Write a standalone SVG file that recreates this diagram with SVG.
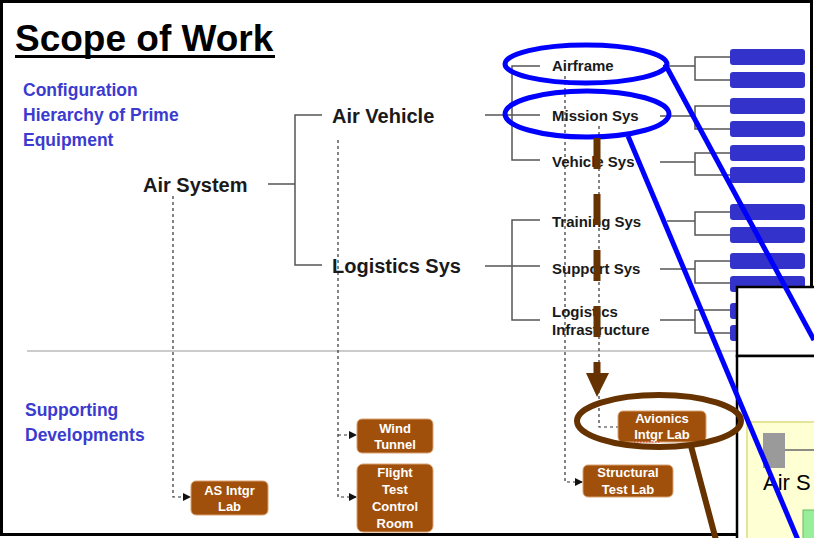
<svg xmlns="http://www.w3.org/2000/svg" width="814" height="538" viewBox="0 0 814 538">
<style>
.t{font-family:"Liberation Sans",Arial,sans-serif;font-weight:bold;fill:#1a1a1a}
.blue{font-family:"Liberation Sans",Arial,sans-serif;font-weight:bold;font-size:17.5px;fill:#3b3bcf}
.big{font-size:20px}
.sub{font-size:15px}
.tree{fill:none;stroke:#555;stroke-width:1.5}
.dot{fill:none;stroke:#333;stroke-width:1.2;stroke-dasharray:3 3}
.br rect{fill:#a0500a;stroke:#d9a070;stroke-width:1}
.bt{font-family:"Liberation Sans",Arial,sans-serif;font-weight:bold;font-size:13px;fill:#fff;text-anchor:middle}
.leaf{fill:#3333cc}
.bl{fill:none;stroke:#0000ff;stroke-width:5}
.bn{fill:none;stroke:#663300;stroke-width:6}
.sq{fill:none;stroke:#e03030;stroke-width:1;stroke-dasharray:1.5 1.5}
</style>
<defs>
<marker id="ah" viewBox="0 0 8 8" refX="7" refY="4" markerWidth="8" markerHeight="8" markerUnits="userSpaceOnUse" orient="auto">
<path d="M0,0 L8,4 L0,8 Z" fill="#111"/>
</marker>
</defs>
<rect x="0" y="0" width="814" height="538" fill="#fff"/>
<rect x="1.5" y="1.5" width="810" height="533" fill="none" stroke="#000" stroke-width="3"/>

<g id="title">
<text class="t" x="15" y="51" font-size="37" style="fill:#000">Scope of Work</text>
<rect x="15" y="55" width="260" height="3" fill="#000"/>
</g>
<g id="label-config">
<text class="blue" x="23" y="96">Configuration</text>
<text class="blue" x="23" y="121">Hierarchy of Prime</text>
<text class="blue" x="23" y="146">Equipment</text>
</g>
<g id="label-supporting">
<text class="blue" x="25" y="416">Supporting</text>
<text class="blue" x="25" y="441">Developments</text>
</g>
<path d="M27,351 H737" stroke="#cccccc" stroke-width="2"/>

<g id="connectors">
<path class="tree" d="M268,184 H295 M322,115 H295 V265 H322"/>
<path class="tree" d="M485,115 H540 M540,66 H512 V160 H540"/>
<path class="tree" d="M485,266 H540 M540,220 H512 V320 H540"/>
<path class="tree" d="M665,66 H695 M730,57 H695 V80 H730"/>
<path class="tree" d="M660,116 H695 M730,106 H695 V129 H730"/>
<path class="tree" d="M660,162 H695 M730,153 H695 V175 H730"/>
<path class="tree" d="M667,221 H695 M730,212 H695 V235 H730"/>
<path class="tree" d="M660,269 H695 M730,261 H695 V283 H730"/>
<path class="tree" d="M660,320 H695 M730,310 H695 V333 H730"/>
<path class="dot" d="M173,196 V497 H190" marker-end="url(#ah)"/>
<path class="dot" d="M338,140 V497 H356" marker-end="url(#ah)"/>
<path class="dot" d="M338,435 H356" marker-end="url(#ah)"/>
<path class="dot" d="M565,76 V482 H582" marker-end="url(#ah)"/>
<path class="dot" d="M599,126 V427 H618"/>
</g>

<g id="air-system"><text class="t big" x="143" y="192">Air System</text></g>
<g id="air-vehicle"><text class="t big" x="332" y="123">Air Vehicle</text></g>
<g id="logistics-sys"><text class="t big" x="332" y="273">Logistics Sys</text></g>
<g id="airframe"><text class="t sub" x="552" y="71">Airframe</text></g>
<g id="mission-sys"><text class="t sub" x="552" y="121">Mission Sys</text></g>
<g id="vehicle-sys"><text class="t sub" x="552" y="167">Vehicle Sys</text></g>
<g id="training-sys"><text class="t sub" x="552" y="227">Training Sys</text></g>
<g id="support-sys"><text class="t sub" x="552" y="274">Support Sys</text></g>
<g id="logistics-infra"><text class="t sub" x="552" y="317">Logistics</text><text class="t sub" x="552" y="335">Infrastructure</text></g>

<g id="leaves">
<rect class="leaf" x="730" y="49" width="75" height="16" rx="3"/>
<rect class="leaf" x="730" y="72" width="75" height="16" rx="3"/>
<rect class="leaf" x="730" y="98" width="75" height="16" rx="3"/>
<rect class="leaf" x="730" y="121" width="75" height="16" rx="3"/>
<rect class="leaf" x="730" y="145" width="75" height="16" rx="3"/>
<rect class="leaf" x="730" y="167" width="75" height="16" rx="3"/>
<rect class="leaf" x="730" y="204" width="75" height="16" rx="3"/>
<rect class="leaf" x="730" y="227" width="75" height="16" rx="3"/>
<rect class="leaf" x="730" y="253" width="75" height="16" rx="3"/>
<rect class="leaf" x="730" y="276" width="75" height="16" rx="3"/>
<rect class="leaf" x="730" y="303" width="75" height="16" rx="3"/>
<rect class="leaf" x="730" y="325" width="75" height="16" rx="3"/>
</g>

<g id="as-intgr-lab" class="br">
<rect x="191" y="481" width="77" height="34" rx="5"/>
<text class="bt" x="229.5" y="495">AS Intgr</text>
<text class="bt" x="229.5" y="511">Lab</text>
<path class="sq" d="M222,498 H251"/>
</g>
<g id="wind-tunnel" class="br">
<rect x="357" y="419" width="76" height="34" rx="5"/>
<text class="bt" x="395" y="433">Wind</text>
<text class="bt" x="395" y="449">Tunnel</text>
</g>
<g id="flight-test" class="br">
<rect x="357" y="464" width="76" height="68" rx="6"/>
<text class="bt" x="395" y="477">Flight</text>
<text class="bt" x="395" y="494">Test</text>
<text class="bt" x="395" y="511">Control</text>
<text class="bt" x="395" y="528">Room</text>
</g>
<g id="structural-test-lab" class="br">
<rect x="583" y="465" width="90" height="32" rx="5"/>
<text class="bt" x="628" y="477">Structural</text>
<text class="bt" x="628" y="494">Test Lab</text>
</g>
<g id="avionics-intgr-lab" class="br">
<rect x="618" y="411" width="88" height="31" rx="5"/>
<text class="bt" x="662" y="423">Avionics</text>
<text class="bt" x="662" y="439">Intgr Lab</text>
<path class="sq" d="M634,442 H660"/>
</g>

<g id="highlight-blue">
<ellipse class="bl" cx="586" cy="64" rx="81" ry="19"/>
<ellipse class="bl" cx="587" cy="114" rx="82" ry="23"/>
</g>
<g id="brown-arrow">
<path d="M597,138 V373" stroke="#663300" stroke-width="7" stroke-dasharray="31 25" fill="none"/>
<path d="M586,373 L609,373 L597,397 Z" fill="#663300"/>
</g>

<g id="window">
<rect x="737" y="287" width="90" height="69" fill="#fff" stroke="#000" stroke-width="2.5"/>
<rect x="737" y="356" width="90" height="200" fill="#fff" stroke="#000" stroke-width="2.5"/>
<rect x="747" y="422" width="90" height="130" fill="#ffffd4" stroke="#e5e59a" stroke-width="2"/>
<rect x="763" y="433" width="22" height="35" fill="#9a9a9a"/>
<path d="M785,450 H814" stroke="#666" stroke-width="1.5"/>
<text x="763" y="490" font-family="Liberation Sans, Arial, sans-serif" font-size="22" fill="#000">Air S</text>
<rect x="803" y="510" width="20" height="40" fill="#99ee99" stroke="#66bb66"/>
</g>

<g id="callout-lines">
<path class="bl" d="M665,64 L814,340"/>
<path class="bl" d="M628,136 L798,540"/>
<ellipse class="bn" cx="659" cy="421" rx="82" ry="26"/>
<path class="bn" d="M691,446 L716,540"/>
</g>
</svg>
